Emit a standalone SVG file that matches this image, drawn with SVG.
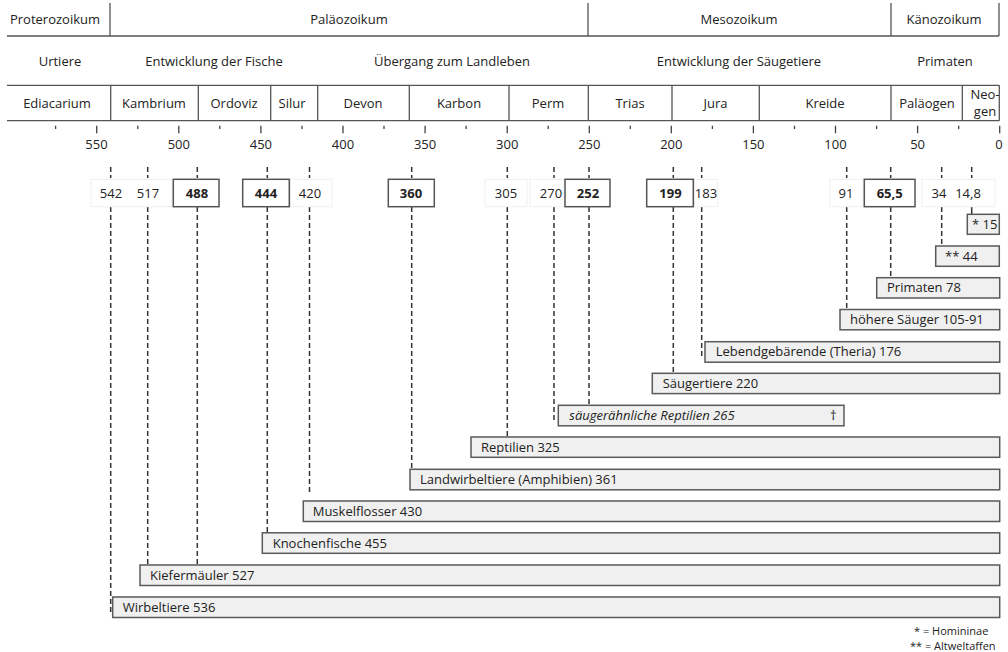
<svg xmlns="http://www.w3.org/2000/svg" width="1008" height="652" viewBox="0 0 1008 652">
<style>
text{font-family:"Open Sans","DejaVu Sans",sans-serif;font-size:13px;fill:#222}
.c{text-anchor:middle}
.b{font-weight:bold}
.hl{stroke:#555;stroke-width:1.3;fill:none}
.tk{stroke:#444;stroke-width:1.3}
.dl{stroke:#333;stroke-width:1.5;stroke-dasharray:5 3;fill:none}
.bar{fill:#f0f0f0;stroke:#5a5a5a;stroke-width:1.5}
.nb{fill:#fff;stroke:#555;stroke-width:1.5}
.fb{fill:#fff;stroke:#f0f0f0;stroke-width:1}
.lg{font-size:11px}
</style>
<rect width="1008" height="652" fill="#fff"/>
<g id="header">
<path class="hl" d="M7 36H999M110 3V36M588 3V36M891 3V36M999 3V36"/>
<text class="c" x="55" y="24">Proterozoikum</text>
<text class="c" x="349" y="24">Paläozoikum</text>
<text class="c" x="739" y="24">Mesozoikum</text>
<text class="c" x="944" y="24">Känozoikum</text>
<text class="c" x="60" y="66">Urtiere</text>
<text class="c" x="214" y="66">Entwicklung der Fische</text>
<text class="c" x="452" y="66">Übergang zum Landleben</text>
<text class="c" x="739" y="66">Entwicklung der Säugetiere</text>
<text class="c" x="945" y="66">Primaten</text>
</g>
<g id="periods">
<path class="hl" d="M7 85.3H999.3M7 120.7H999.3M110.7 85.3V120.7M198.3 85.3V120.7M270.7 85.3V120.7M317.7 85.3V120.7M409.3 85.3V120.7M509 85.3V120.7M588.3 85.3V120.7M672 85.3V120.7M759.3 85.3V120.7M891 85.3V120.7M962.3 85.3V120.7M999.3 85.3V120.7"/>
<text class="c" x="57" y="108">Ediacarium</text>
<text class="c" x="154" y="108">Kambrium</text>
<text class="c" x="234" y="108">Ordoviz</text>
<text class="c" x="292" y="108">Silur</text>
<text class="c" x="363" y="108">Devon</text>
<text class="c" x="459" y="108">Karbon</text>
<text class="c" x="548" y="108">Perm</text>
<text class="c" x="630" y="108">Trias</text>
<text class="c" x="715.5" y="108">Jura</text>
<text class="c" x="825" y="108">Kreide</text>
<text class="c" x="927" y="108">Paläogen</text>
<text class="c" x="985" y="99">Neo-</text>
<text class="c" x="985" y="116">gen</text>
</g>
<g id="axis">
<path class="tk" d="M96.7 125.7V133.3M178.8 125.7V133.3M260.9 125.7V133.3M343 125.7V133.3M425.1 125.7V133.3M507.2 125.7V133.3M589.3 125.7V133.3M671.3 125.7V133.3M753.4 125.7V133.3M835.5 125.7V133.3M917.6 125.7V133.3M999.7 125.7V133.3"/>
<path class="tk" d="M55.6 125.7V129M137.8 125.7V129M219.8 125.7V129M302 125.7V129M384 125.7V129M466.1 125.7V129M548.2 125.7V129M630.3 125.7V129M712.4 125.7V129M794.5 125.7V129M876.6 125.7V129M958.7 125.7V129"/>
<text class="c" x="96.5" y="148.7">550</text>
<text class="c" x="178.8" y="148.7">500</text>
<text class="c" x="260.9" y="148.7">450</text>
<text class="c" x="343" y="148.7">400</text>
<text class="c" x="425.1" y="148.7">350</text>
<text class="c" x="507.2" y="148.7">300</text>
<text class="c" x="589.3" y="148.7">250</text>
<text class="c" x="671.3" y="148.7">200</text>
<text class="c" x="753.4" y="148.7">150</text>
<text class="c" x="835.5" y="148.7">100</text>
<text class="c" x="917.6" y="148.7">50</text>
<text class="c" x="999" y="148.7">0</text>
</g>
<g id="connectors">
<path class="dl" d="M110.7 167V178M147.7 167V178M197.3 167V178M267.3 167V178M309.5 167V178M411.7 167V178M507.3 167V178M554 167V178M589 167V178M673.3 167V178M701.7 167V178M846.7 167V178M890.7 167V178M941.7 167V178M971.7 167V178"/>
<path class="dl" d="M110.7 207V615M147.7 207V565M197.3 207V565M267.3 207V532M309.5 207V495M411.7 207V469M507.3 207V437M554 207V420M589 207V405M673.3 207V373M701.7 207V357M846.7 207V309M890.7 207V278M941.7 207V246"/>
<path d="M971.7 207V214" stroke="#333" stroke-width="1.5"/>
</g>
<g id="dates">
<rect class="fb" x="91" y="179.3" width="81" height="27.4"/>
<rect class="fb" x="290.5" y="179.3" width="41.5" height="27.4"/>
<rect class="fb" x="485" y="179.3" width="42" height="27.4"/>
<rect class="fb" x="530" y="179.3" width="34" height="27.4"/>
<rect class="fb" x="694.5" y="179.3" width="23" height="27.4"/>
<rect class="fb" x="830" y="179.3" width="33" height="27.4"/>
<rect class="fb" x="922" y="179.3" width="73" height="27.4"/>
<rect class="nb" x="173.3" y="179.3" width="45.7" height="27.4"/>
<rect class="nb" x="242.7" y="179.3" width="46.6" height="27.4"/>
<rect class="nb" x="388.3" y="179.3" width="46" height="27.4"/>
<rect class="nb" x="565" y="179.3" width="45" height="27.4"/>
<rect class="nb" x="646.7" y="179.3" width="46.6" height="27.4"/>
<rect class="nb" x="864.3" y="179.3" width="50.7" height="27.4"/>
<text class="c" x="111" y="198">542</text>
<text class="c" x="148" y="198">517</text>
<text class="c b" x="197" y="198">488</text>
<text class="c b" x="266" y="198">444</text>
<text class="c" x="310" y="198">420</text>
<text class="c b" x="411" y="198">360</text>
<text class="c" x="506" y="198">305</text>
<text class="c" x="551" y="198">270</text>
<text class="c b" x="588" y="198">252</text>
<text class="c b" x="670.5" y="198">199</text>
<text class="c" x="706" y="198">183</text>
<text class="c" x="846" y="198">91</text>
<text class="c b" x="889.7" y="198">65,5</text>
<text class="c" x="939" y="198">34</text>
<text class="c" x="968" y="198">14,8</text>
</g>
<g id="bar-15"><rect class="bar" x="967.3" y="214.3" width="32" height="20"/><text x="972" y="228.8">* 15</text></g>
<g id="bar-44"><rect class="bar" x="935.7" y="246" width="63.6" height="20.3"/><text x="945" y="260.6">** 44</text></g>
<g id="bar-primaten"><rect class="bar" x="876.7" y="277.7" width="123" height="20.3"/><text x="887" y="292.3">Primaten 78</text></g>
<g id="bar-hoehere"><rect class="bar" x="840" y="309.5" width="159.7" height="20.3"/><text x="850" y="324">höhere Säuger 105-91</text></g>
<g id="bar-theria"><rect class="bar" x="705" y="341.7" width="294.7" height="20.5"/><text x="715.7" y="356.3">Lebendgebärende (Theria) 176</text></g>
<g id="bar-saeuger"><rect class="bar" x="652.3" y="373.3" width="347.4" height="20.3"/><text x="662.7" y="388">Säugertiere 220</text></g>
<g id="bar-saeugerreptil"><rect class="bar" x="558.3" y="405.3" width="285.7" height="20.5"/><text x="569.3" y="420" font-style="italic">säugerähnliche Reptilien 265</text><text class="c" x="833.3" y="420">†</text></g>
<g id="bar-reptilien"><rect class="bar" x="471" y="437" width="528.7" height="20.3"/><text x="481" y="451.8">Reptilien 325</text></g>
<g id="bar-landwirbel"><rect class="bar" x="410" y="469.3" width="589.7" height="20.5"/><text x="420" y="484">Landwirbeltiere (Amphibien) 361</text></g>
<g id="bar-muskel"><rect class="bar" x="303.3" y="501" width="696.4" height="20.5"/><text x="312.7" y="515.8">Muskelflosser 430</text></g>
<g id="bar-knochen"><rect class="bar" x="262.3" y="532.8" width="737.4" height="20.5"/><text x="272.7" y="547.6">Knochenfische 455</text></g>
<g id="bar-kiefer"><rect class="bar" x="140" y="565" width="859.7" height="20.5"/><text x="150" y="579.8">Kiefermäuler 527</text></g>
<g id="bar-wirbel"><rect class="bar" x="112.7" y="597" width="887" height="20.5"/><text x="122.7" y="611.8">Wirbeltiere 536</text></g>
<g id="legend">
<text class="lg" x="914" y="635">* = Homininae</text>
<text class="lg" x="910" y="649.5">** = Altweltaffen</text>
</g>
</svg>
